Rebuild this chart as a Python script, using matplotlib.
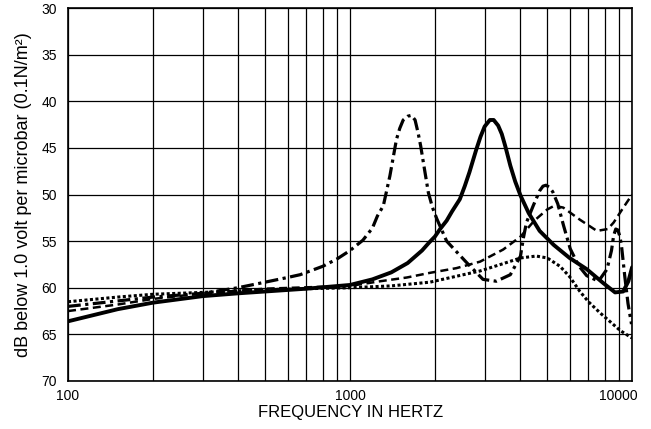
import numpy as np
import matplotlib
matplotlib.use("Agg")
import matplotlib.pyplot as plt
import matplotlib.transforms as mtransforms

plt.rcParams['font.family'] = ['Liberation Sans', 'DejaVu Sans']

# solid curve
f_solid = [100, 150, 200, 300, 400, 500, 700, 1000, 1200, 1400, 1600, 1800, 1900, 2000, 2085, 2200,
           2300, 2450, 2550, 2650, 2730, 2800, 2900, 3000, 3130, 3230, 3350, 3450, 3550, 3700,
           3850, 4020, 4300, 4700, 5270, 6000, 6900, 7900, 8700, 9300, 9700, 10000]
db_solid = [63.6, 62.3, 61.6, 60.9, 60.6, 60.4, 60.1, 59.7, 59.1, 58.35, 57.35, 56.0, 55.2, 54.5, 53.7, 52.8,
            51.8, 50.5, 49.1, 47.6, 46.3, 45.2, 43.8, 42.7, 42.0, 42.0, 42.6, 43.5, 44.8, 46.9,
            48.6, 50.1, 52.0, 53.9, 55.4, 56.8, 58.0, 59.5, 60.5, 60.4, 59.3, 57.8]

# dash-dot curve
f_dashdot = [100, 200, 300, 400, 500, 600, 665, 800, 900, 1000, 1110, 1200, 1250, 1312, 1384, 1460,
             1500, 1543, 1600, 1650, 1700, 1743, 1780, 1820, 1895, 1960, 2030, 2200, 2590, 2960,
             3300, 3700, 4020, 4120, 4220, 4460, 4700, 4830, 4950, 5080, 5230, 5450, 5710, 6030,
             6450, 6900, 7600, 8150, 8450, 8600, 8750, 8900, 9050, 9170, 9420, 9670, 9950]
db_dashdot = [62.0, 61.0, 60.6, 60.0, 59.4, 58.9, 58.6, 57.7, 56.9, 56.0, 54.9, 53.6, 52.3, 51.2, 48.0, 44.1,
              42.9, 42.0, 41.6, 41.5, 42.0, 43.4, 44.8, 46.6, 49.8, 51.4, 52.6, 55.0, 57.3, 59.1,
              59.3, 58.6, 56.6, 54.6, 53.0, 51.2, 49.6, 49.1, 49.0, 49.2, 49.7, 51.0, 53.3, 55.8,
              57.6, 58.7, 59.3, 58.0, 56.0, 54.4, 53.7, 53.8, 54.5, 55.5, 58.8, 61.7, 63.9]

# dashed curve
f_dashed = [100, 150, 200, 300, 500, 1000, 1280, 1590, 1920, 2380, 2890, 3490, 4025, 4500, 5000,
            5300, 5700, 6530, 7500, 8200, 8600, 9080, 9500, 10000]
db_dashed = [62.5, 61.8, 61.2, 60.6, 60.1, 59.8, 59.3, 58.9, 58.4, 57.9, 57.2, 55.9, 54.5, 52.8, 51.6,
             51.2, 51.4, 52.7, 53.9, 53.7, 53.0, 51.9, 51.0, 50.0]

# dotted curve
f_dotted = [100, 150, 200, 300, 500, 1000, 1400, 1920, 2200, 2890, 3500, 4025, 4570, 5000, 5550,
            6000, 6530, 7000, 7700, 8400, 9080, 10000]
db_dotted = [61.5, 61.0, 60.7, 60.5, 60.2, 60.0, 59.8, 59.4, 59.0, 58.2, 57.4, 56.8, 56.6, 56.8, 57.7,
             58.8, 60.4, 61.5, 62.7, 63.7, 64.6, 65.4]

y_ticks = [30, 35, 40, 45, 50, 55, 60, 65, 70]
x_ticks = [100, 1000, 10000]
x_ticklabels = ['100', '1000', '10000']

fig = plt.figure(figsize=(6.51, 4.29), dpi=100)
ax = fig.add_axes([0.1045, 0.112, 0.8665, 0.869])

ax.plot(f_dotted, db_dotted, color='black', lw=2.2, linestyle=(0, (1.0, 0.8)),
        dash_capstyle='butt')
ax.plot(f_dashed, db_dashed, color='black', lw=1.8, linestyle=(0, (3.2, 1.8)))
ax.plot(f_dashdot, db_dashdot, color='black', lw=2.3, linestyle=(0, (4.0, 1.4, 1.0, 1.4)))
ax.plot(f_solid, db_solid, color='black', lw=2.8, solid_capstyle='round', solid_joinstyle='round')

ax.set_xscale('log')
ax.set_xlim(100, 10000)
ax.set_ylim(70, 30)
ax.set_yticks(y_ticks)
ax.set_xticks(x_ticks)
ax.set_xticklabels(x_ticklabels)
ax.xaxis.set_minor_formatter(plt.NullFormatter())

ax.grid(True, which='major', color='black', lw=0.9)
ax.grid(True, which='minor', axis='x', color='black', lw=0.9)
ax.tick_params(which='both', length=0, labelsize=10)
ax.tick_params(axis='y', pad=8)
ax.tick_params(axis='x', pad=6)
for s in ax.spines.values():
    s.set_linewidth(1.2)

# last x label sits a bit left of the axis end
last = ax.get_xticklabels()[-1]
last.set_horizontalalignment('right')
last.set_transform(last.get_transform() + mtransforms.ScaledTranslation(6 / 100, 0, fig.dpi_scale_trans))

ax.set_xlabel('FREQUENCY IN HERTZ', fontsize=12, labelpad=1)
ax.set_ylabel('dB below 1.0 volt per microbar (0.1N/m²)', fontsize=13, labelpad=7)

fig.savefig('out.png', dpi=100)
